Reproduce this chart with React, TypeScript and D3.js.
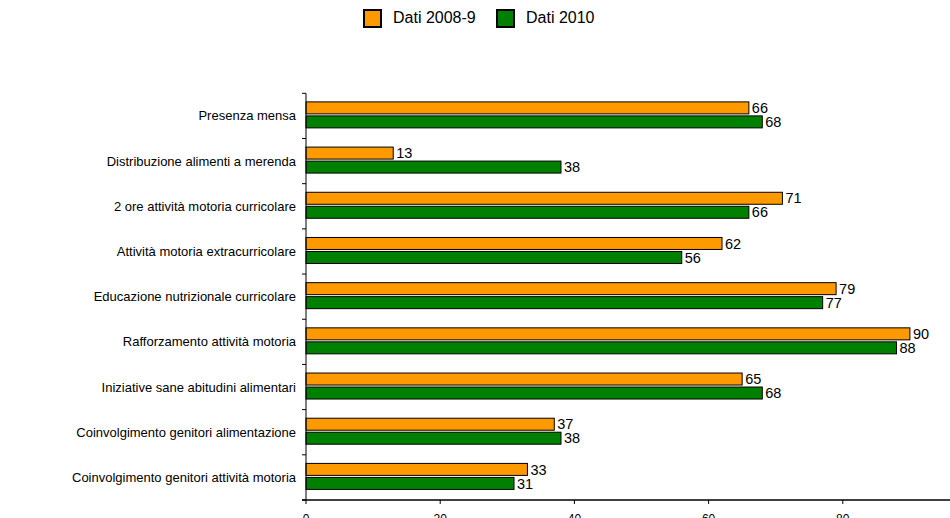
import React from "react";
import * as d3 from "d3";

const categories = [
  "Presenza mensa",
  "Distribuzione alimenti a merenda",
  "2 ore attività motoria curricolare",
  "Attività motoria extracurricolare",
  "Educazione nutrizionale curricolare",
  "Rafforzamento attività motoria",
  "Iniziative sane abitudini alimentari",
  "Coinvolgimento genitori alimentazione",
  "Coinvolgimento genitori attività motoria",
];
const series2008 = [66, 13, 71, 62, 79, 90, 65, 37, 33];
const series2010 = [68, 38, 66, 56, 77, 88, 68, 38, 31];
const seriesNames = ["Dati 2008-9", "Dati 2010"];
const seriesColors = ["#FF9900", "#008000"];
const xTicks = [0, 20, 40, 60, 80, 100];

export default function App() {
  const W = 950;
  const H = 518;
  const left = 306;
  const top = 93.3;
  const bottom = 500;
  const x = d3.scaleLinear().domain([0, 100]).range([left, left + 671]);
  const y = d3.scaleBand<string>().domain(categories).range([top, bottom]).padding(0);
  const barH = 12;
  const gap = 2;
  const font = "Arial, 'Liberation Sans', sans-serif";
  const allSeries = [series2008, series2010];

  return (
    <div style={{ position: "fixed", left: 0, top: 0, width: W, height: H, background: "#fff" }}>
      <svg width={W} height={H} style={{ display: "block" }} fontFamily={font}>
        <rect x={0} y={0} width={W} height={H} fill="#fff" />
        {/* legend */}
        {seriesNames.map((n, i) => {
          const lx = [364, 497][i];
          return (
            <g key={n}>
              <rect x={lx} y={10} width={17} height={17} fill={seriesColors[i]} stroke="#000" strokeWidth={2} />
              <text x={lx + 29} y={22.7} fontSize={16} fill="#000">{n}</text>
            </g>
          );
        })}
        {/* bars */}
        {categories.map((c, ci) => {
          const bc = (y(c) as number) + y.bandwidth() / 2 - 1;
          return (
            <g key={c}>
              {allSeries.map((s, si) => {
                const by = si === 0 ? bc - gap / 2 - barH : bc + gap / 2;
                const v = s[ci];
                return (
                  <g key={si}>
                    <rect
                      x={x(0)}
                      y={by}
                      width={x(v) - x(0)}
                      height={barH}
                      fill={seriesColors[si]}
                      stroke="#000"
                      strokeWidth={1}
                    />
                    <text x={x(v) + 3} y={by + barH / 2 + 5.2} fontSize={14.5} fill="#000">
                      {v}
                    </text>
                  </g>
                );
              })}
              <text
                x={296}
                y={(y(c) as number) + y.bandwidth() / 2 + 4.5}
                textAnchor="end"
                fontSize={13}
                fill="#000"
              >
                {c}
              </text>
            </g>
          );
        })}
        {/* y axis */}
        <line x1={x(0)} x2={x(0)} y1={top} y2={bottom} stroke="#000" strokeWidth={1} />
        {[...categories.map((c) => y(c) as number), bottom].map((ty, i) => (
          <line key={i} x1={x(0) - 4} x2={x(0)} y1={ty} y2={ty} stroke="#000" strokeWidth={1} />
        ))}
        {/* x axis */}
        <line x1={x(0) - 4} x2={W + 40} y1={bottom} y2={bottom} stroke="#000" strokeWidth={1.5} />
        {xTicks.map((t) => (
          <g key={t}>
            <line x1={x(t)} x2={x(t)} y1={bottom} y2={bottom + 4} stroke="#000" strokeWidth={1} />
            <text x={x(t)} y={523} textAnchor="middle" fontSize={12} fill="#000">
              {t}
            </text>
          </g>
        ))}
      </svg>
    </div>
  );
}
